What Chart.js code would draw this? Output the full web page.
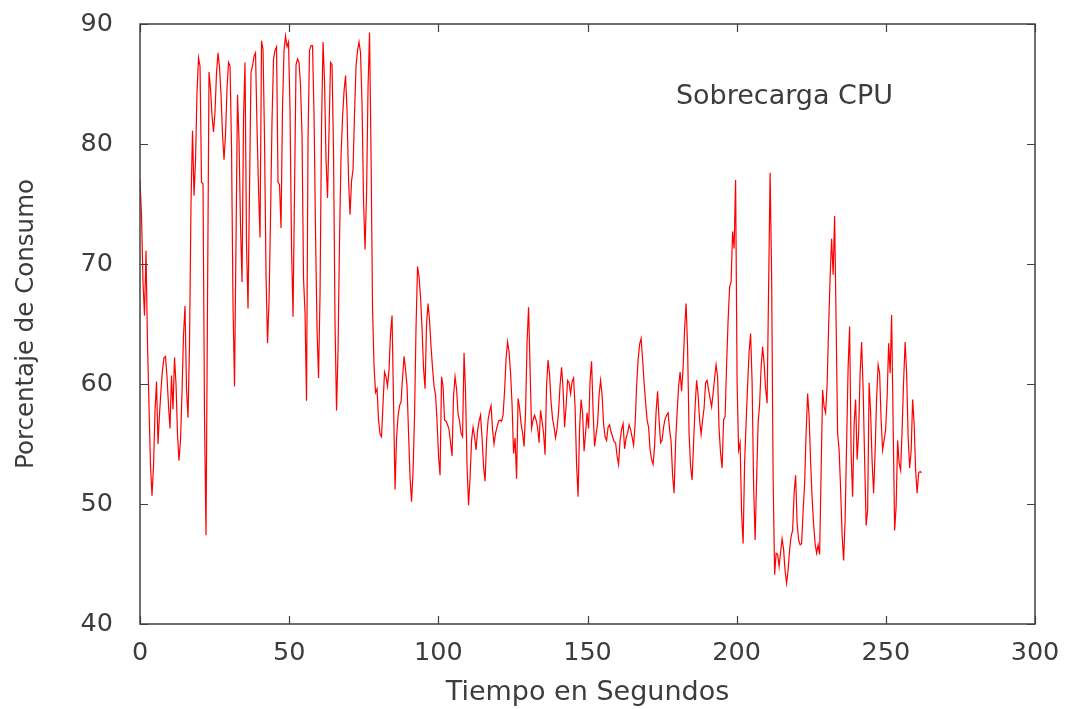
<!DOCTYPE html>
<html>
<head>
<meta charset="utf-8">
<title>Sobrecarga CPU</title>
<script src="https://cdn.jsdelivr.net/npm/chart.js@4.4.1/dist/chart.umd.min.js"></script>
<style>
  html, body { margin: 0; padding: 0; background: #fff; }
  #wrap { width: 1069px; height: 709px; }
</style>
</head>
<body>
<div id="wrap"><canvas id="cpuChart" width="1069" height="709"></canvas></div>
<script>
// CPU usage samples (percent), one every ~0.5 s
const usage = [
  // 0 - 40 s
  77, 74.1, 68.5, 65.7, 71.1, 63.3, 58.2, 53.2, 50.7, 53.1,
  57.7, 60.2, 55, 57.5, 59.5, 61.2, 62.2, 62.3, 60.6, 58.2,
  56.3, 60.7, 57.9, 62.2, 60, 55.8, 53.6, 55.3, 59.3, 64.1,
  66.5, 59.6, 57.2, 63.3, 75.1, 81.1, 75.7, 78.6, 84.3, 87.2,
  86.5, 76.8, 76.7, 57.2, 47.4, 66.8, 86, 84.6, 82.4, 81,
  82.7, 85.9, 87.6, 86.4, 84.1, 80.8, 78.7, 80.8, 84.6, 86.8,
  86.5, 79.8, 66.5, 59.8, 72, 84.1, 80.3, 73.2, 68.5, 82.1,
  86.8, 71.6, 66.3, 76.3, 86, 86.5, 87.3, 87.6, 81.4, 76.3,
  72.2, 88.6,
  // 40 - 80 s
  87.9, 80.4, 69.1, 63.4, 66.9, 73.9, 82, 87.1, 87.8, 88.1,
  76.8, 76.6, 73, 83.1, 87.8, 89, 88.1, 88.5, 82.8, 71.4,
  65.6, 76.1, 86.6, 87.1, 86.8, 84.9, 80.7, 68.8, 65.9, 58.6,
  80.4, 87.8, 88.2, 88.2, 82.5, 72.6, 64.5, 60.5, 67.5, 81.5,
  88.5, 85.2, 78.7, 75.5, 81.1, 86.8, 86.6, 79.3, 65, 57.8,
  62.8, 72.1, 79, 82.2, 84.4, 85.7, 82.8, 77.1, 74.1, 76.9,
  77.9, 82.5, 86.5, 87.8, 88.5, 87.6, 83.3, 75.3, 71.2, 75.8,
  84.7, 89.3, 79.2, 66.3, 61.5, 59.3, 59.6, 57, 55.8,
  // 80 - 120 s
  55.6, 58.4, 61, 60.6, 59.8, 61.2, 64.2, 65.7, 58.4, 51.2,
  55.5, 57.3, 58.2, 58.5, 60.5, 62.3, 61.2, 59.8, 55.9, 52.2,
  50.2, 52.7, 57.4, 64.8, 69.8, 68.9, 67.2, 64.6, 61.3, 59.6,
  65, 66.7, 65.3, 63.1, 61.3, 59.8, 59.1, 56.9, 54, 52.4,
  60.6, 59.8, 57, 56.9, 56.6, 56.2, 55.1, 54, 59, 60.6,
  59.6, 57.5, 56.9, 55.9, 55.6, 62.6, 59.3, 53.1, 49.9, 52.2,
  55.3, 56.4, 55.6, 54.5, 56.1, 56.9, 57.4, 55.5, 53.1, 51.9,
  55.3, 57, 57.7, 58.2, 56.2, 55, 55.9, 56.4, 56.9, 57,
  // 120 - 160 s
  56.9, 57.4, 59.4, 62.1, 63.5, 62.7, 60.9, 58.3, 54.2, 55.5,
  52.1, 58.8, 58, 56.7, 55.9, 54.8, 57.7, 63.5, 66.4, 61.3,
  56.3, 57, 57.4, 57, 56.4, 55.1, 57.8, 56.9, 55.9, 54.1,
  59.9, 62, 60.8, 58.5, 57.1, 56.4, 55.5, 56.3, 57.7, 59.9,
  61.4, 59.6, 56.4, 58.1, 60.3, 60.1, 59.2, 60.2, 60.5, 58.1,
  53.3, 50.6, 56.3, 58.7, 57.6, 54.4, 55.9, 57.6, 56.3, 60.3,
  61.9, 57.8, 54.8, 55.8, 56.7, 59.1, 60.3, 59.1, 56.7, 55.6,
  55.3, 56.4, 56.6, 56, 55.6, 55.2, 55.1, 54, 53.3, 55.3,
  // 160 - 198 s
  56.2, 56.7, 54.6, 55.5, 55.9, 56.6, 56.2, 55.6, 54.9, 56.6,
  59.8, 62, 63.3, 63.8, 62.1, 60.1, 58.5, 57, 56.4, 54.5,
  53.7, 53.3, 54.8, 57.7, 59.4, 57, 55.1, 55.3, 56.4, 57.1,
  57.4, 57.6, 56.2, 55.2, 52.4, 50.9, 55.1, 57.6, 59.8, 61,
  59.4, 61.3, 64.6, 66.7, 63, 55.8, 53.1, 52, 55.1, 58.1,
  60.3, 59.1, 57, 55.8, 57, 58, 60.1, 60.3, 59.5, 58.8,
  58.1, 59.2, 60.5, 61.6, 60.6, 56.2, 54.2, 53, 57, 57.3,
  61.6, 65.3, 68.1, 68.5,
  // 198 - 231 s
  72.7, 71.3, 77, 60.1, 54.5, 55.1, 49.2, 46.7, 53.4, 56.7,
  59.9, 62.7, 64.2, 60.1, 51.6, 47, 52, 56.7, 58.3, 61.4,
  63.1, 61.7, 59.6, 58.4, 68, 77.6, 69.1, 52.3, 44.1, 45.9,
  45.8, 44.8, 46, 47.1, 46.2, 44.4, 43.4, 44.5, 46.2, 47.3,
  47.8, 50.9, 52.4, 48.4, 47, 46.6, 46.7, 49.4, 51.7, 55.9,
  59.2, 57.3, 53.5, 50.5, 48.3, 46.7, 45.9, 46.6, 45.8, 52.7,
  59.5, 58.1, 57.6, 59.9, 64.8, 68.9,
  // 231 - 262 s
  72.1, 69.1, 74, 65.1, 55.9, 54.5, 51.2, 47.4, 45.3, 48.7,
  55.1, 61.4, 64.8, 54.2, 50.6, 56.7, 58.7, 53.7, 55.9, 60.9,
  63.5, 59.6, 53.7, 48.2, 49.5, 60.1, 57.6, 53.5, 50.9, 54.4,
  58.9, 61.6, 60.9, 57, 54.5, 55.3, 56.2, 58.9, 63.4, 60.9,
  65.75, 56.7, 47.8, 49.8, 55.3, 53.4, 52.8, 56.2, 60.3, 63.5,
  60.9, 55.6, 53, 54.4, 58.7, 56.7, 52.8, 50.9, 52.6, 52.7,
  52.6
];

// seconds between two samples
const sampleStep = 262 / (usage.length - 1);

const xTicks = [0, 50, 100, 150, 200, 250, 300];
const yTicks = [40, 50, 60, 70, 80, 90];

const seriesLabel = 'Sobrecarga CPU';
const xTitle = 'Tiempo en Segundos';
const yTitle = 'Porcentaje de Consumo';

const textColor = '#3c3c3c';
const frameColor = '#404040';
const fontFamily = "'DejaVu Sans', 'Liberation Sans', sans-serif";

const points = usage.map((v, i) => ({ x: i * sampleStep, y: v }));

// gnuplot-like frame: full box plus inward ticks on all four sides, and the key text
const framePlugin = {
  id: 'gnuplotFrame',
  afterDatasetsDraw(chart) {
    const { ctx, chartArea: a, scales } = chart;
    const tickLen = 8;
    ctx.save();
    ctx.strokeStyle = frameColor;
    ctx.lineWidth = 1.5;
    ctx.strokeRect(a.left, a.top, a.right - a.left, a.bottom - a.top);

    ctx.lineWidth = 1.2;
    ctx.beginPath();
    xTicks.forEach(t => {
      const px = Math.round(scales.x.getPixelForValue(t)) + 0.5;
      ctx.moveTo(px, a.bottom); ctx.lineTo(px, a.bottom - tickLen);
      ctx.moveTo(px, a.top); ctx.lineTo(px, a.top + tickLen);
    });
    yTicks.forEach(t => {
      const py = Math.round(scales.y.getPixelForValue(t)) + 0.5;
      ctx.moveTo(a.left, py); ctx.lineTo(a.left + tickLen, py);
      ctx.moveTo(a.right, py); ctx.lineTo(a.right - tickLen, py);
    });
    ctx.stroke();

    // key text, top right inside the plot
    ctx.fillStyle = textColor;
    ctx.font = '27px ' + fontFamily;
    ctx.textAlign = 'right';
    ctx.textBaseline = 'middle';
    ctx.fillText(seriesLabel, a.right - 142, a.top + 73);
    ctx.restore();
  }
};

const ctx = document.getElementById('cpuChart').getContext('2d');

new Chart(ctx, {
  type: 'line',
  data: {
    datasets: [{
      label: seriesLabel,
      data: points,
      borderColor: '#ff0000',
      borderWidth: 1.2,
      pointRadius: 0,
      tension: 0,
      fill: false
    }]
  },
  options: {
    responsive: false,
    animation: false,
    events: [],
    layout: { padding: { top: 24, right: 34, left: 0, bottom: 0 } },
    plugins: {
      legend: { display: false },
      tooltip: { enabled: false }
    },
    scales: {
      x: {
        type: 'linear',
        min: 0,
        max: 300,
        afterBuildTicks: scale => { scale.ticks = xTicks.map(v => ({ value: v })); },
        afterFit: scale => {
          scale.height = 85;
          scale.paddingLeft = 0;
          scale.paddingRight = 0;
        },
        grid: { display: false, drawTicks: false },
        border: { display: false },
        ticks: {
          color: textColor,
          padding: 14,
          font: { family: fontFamily, size: 25.5 }
        },
        title: {
          display: true,
          text: xTitle,
          color: textColor,
          padding: { top: 0, bottom: 0 },
          font: { family: fontFamily, size: 27 }
        }
      },
      y: {
        min: 40,
        max: 90,
        afterBuildTicks: scale => { scale.ticks = yTicks.map(v => ({ value: v })); },
        afterFit: scale => {
          scale.width = 140;
          scale.paddingTop = 0;
          scale.paddingBottom = 0;
        },
        grid: { display: false, drawTicks: false },
        border: { display: false },
        ticks: {
          color: textColor,
          padding: 27,
          font: { family: fontFamily, size: 25.5 }
        },
        title: {
          display: true,
          text: yTitle,
          color: textColor,
          padding: { top: 12, bottom: 0 },
          font: { family: fontFamily, size: 24.5 }
        }
      }
    }
  },
  plugins: [framePlugin]
});
</script>
</body>
</html>
